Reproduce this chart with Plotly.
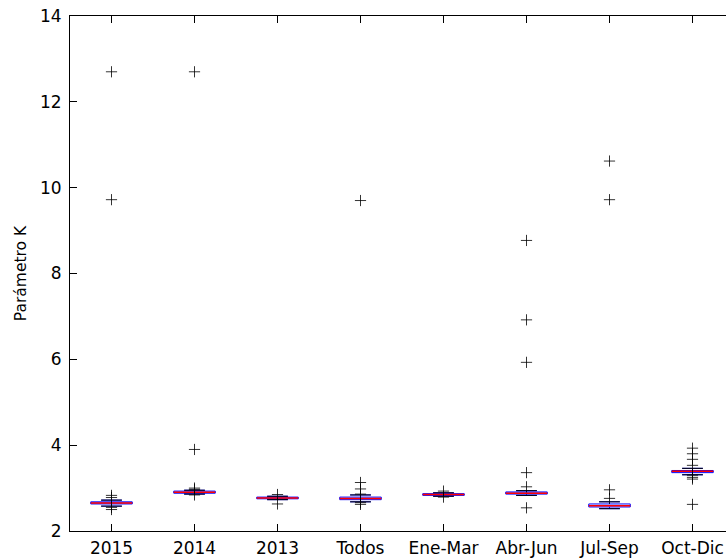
import plotly.graph_objects as go

categories = ["2015", "2014", "2013", "Todos", "Ene-Mar", "Abr-Jun", "Jul-Sep", "Oct-Dic"]
q1 = [2.63, 2.88, 2.75, 2.73, 2.83, 2.86, 2.56, 3.36]
median = [2.65, 2.90, 2.77, 2.76, 2.85, 2.88, 2.59, 3.39]
q3 = [2.68, 2.93, 2.79, 2.79, 2.87, 2.91, 2.63, 3.41]
whisker_low = [2.58, 2.86, 2.73, 2.68, 2.81, 2.83, 2.52, 3.31]
whisker_high = [2.72, 2.95, 2.81, 2.84, 2.89, 2.94, 2.68, 3.46]
fliers = [
    [12.7, 9.72, 2.83, 2.78, 2.55, 2.50],
    [12.7, 3.90, 3.00, 2.97, 2.84],
    [2.85, 2.63],
    [9.70, 3.13, 2.98, 2.86, 2.66, 2.62],
    [2.93, 2.79],
    [8.77, 6.92, 5.93, 3.36, 3.03, 2.54],
    [10.62, 9.72, 2.96, 2.76],
    [3.93, 3.80, 3.67, 3.53, 3.30, 3.25, 3.21, 2.62],
]
yticks = [2, 4, 6, 8, 10, 12, 14]

positions = list(range(1, len(categories) + 1))
box_w = 0.5
cap_w = 0.25

fig = go.Figure()

fig.add_trace(go.Box(
    x=positions, q1=q1, median=median, q3=q3,
    lowerfence=whisker_low, upperfence=whisker_high,
    width=box_w, whiskerwidth=0.5,
    line=dict(color="blue", width=1), fillcolor="rgba(0,0,0,0)",
    boxpoints=False, showlegend=False, hoverinfo="skip",
))

# black caps
cx, cy = [], []
for p, lo, hi in zip(positions, whisker_low, whisker_high):
    for v in (lo, hi):
        cx += [p - cap_w / 2, p + cap_w / 2, None]
        cy += [v, v, None]
fig.add_trace(go.Scatter(x=cx, y=cy, mode="lines", line=dict(color="black", width=1),
                         showlegend=False, hoverinfo="skip"))

# red medians
mx, my = [], []
for p, m in zip(positions, median):
    mx += [p - box_w / 2, p + box_w / 2, None]
    my += [m, m, None]
fig.add_trace(go.Scatter(x=mx, y=my, mode="lines", line=dict(color="red", width=1.5),
                         showlegend=False, hoverinfo="skip"))

# fliers
fx, fy = [], []
for p, fl in zip(positions, fliers):
    fx += [p] * len(fl)
    fy += fl
fig.add_trace(go.Scatter(x=fx, y=fy, mode="markers",
                         marker=dict(symbol="cross-thin", size=8, color="black",
                                     line=dict(color="black", width=0.8)),
                         showlegend=False, hoverinfo="skip"))

fig.update_layout(
    width=726, height=560,
    margin=dict(l=70, r=0, t=16, b=29),
    plot_bgcolor="white", paper_bgcolor="white",
    font=dict(family="DejaVu Sans", color="black"),
    xaxis=dict(
        range=[0.5, 0.5 + 656 / 83], tickvals=positions, ticktext=categories,
        ticks="inside", ticklen=7, tickcolor="black", tickwidth=1,
        showline=True, linecolor="black", linewidth=1, mirror="ticks",
        showgrid=False, zeroline=False, tickfont=dict(size=17),
        automargin=False, ticklabelstandoff=2,
    ),
    yaxis=dict(
        range=[2, 14], tickvals=yticks,
        ticks="inside", ticklen=7, tickcolor="black", tickwidth=1,
        showline=True, linecolor="black", linewidth=1, mirror=False,
        showgrid=False, zeroline=False, tickfont=dict(size=17),
        automargin=False, ticklabelstandoff=4,
        title=dict(text="Parámetro K", font=dict(size=15.5), standoff=9),
    ),
)

fig.write_html(
    "out.html",
    config={"displayModeBar": False},
    post_script="document.body.style.margin='0';document.body.style.padding='0';",
)
